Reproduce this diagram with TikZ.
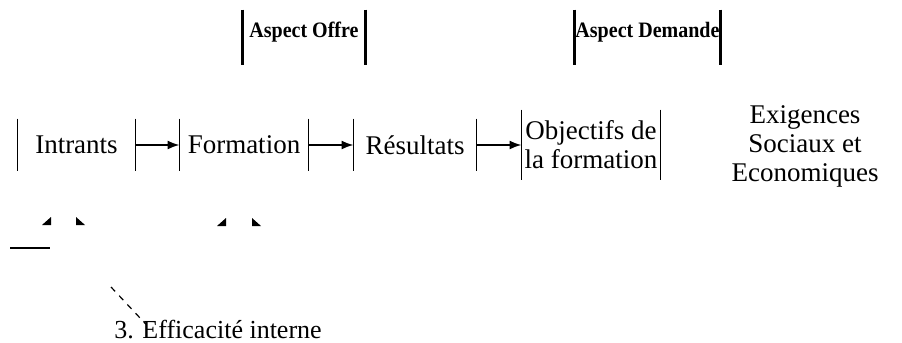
\documentclass[tikz,border=0pt]{standalone}
\usepackage{fontspec}
\setmainfont{Liberation Serif}
\usepackage{tikz}
\usetikzlibrary{arrows.meta}

\tikzset{
  box/.style={inner sep=0pt, minimum height=26pt, font=\fontsize{13.5}{14.5}\selectfont, align=center},
  head/.style={inner sep=0pt, text height=13.5pt, text depth=14pt, font=\fontsize{11}{12}\selectfont\bfseries\addfontfeature{FakeStretch=0.91}},
  bar/.style={line width=0.6pt},
  thickbar/.style={line width=1.4pt},
  tip/.style={fill=black},
  fleche/.style={-{Latex[length=6pt,width=4.5pt]}, line width=1pt},
}

\begin{document}
\begin{tikzpicture}[x=0.5pt, y=-0.5pt]
  \useasboundingbox (0,0) rectangle (902,343);
  % aspects
  \node[head, minimum width=61pt] (offre) at (304,37.5) {Aspect Offre};
  \node[head, minimum width=72.5pt] (demande) at (647.5,37.5) {Aspect Demande};
  \foreach \n in {offre,demande}
    \draw[thickbar] (\n.north west) -- (\n.south west) (\n.north east) -- (\n.south east);
  % chain
  \node[box, minimum width=58.5pt] (intrants) at (76.5,145) {Intrants};
  \node[box, minimum width=64pt] (formation) at (244,145) {Formation};
  \node[box, minimum width=61pt] (resultats) at (415,145) {Résultats};
  \node[box, minimum width=69pt, minimum height=35pt] (objectifs) at (591,145) {Objectifs de\\la formation};
  \node[box] (exigences) at (805,146) {Exigences\\Sociaux et\\Economiques};
  \foreach \n in {intrants,formation,resultats,objectifs}
    \draw[bar] (\n.north west) -- (\n.south west) (\n.north east) -- (\n.south east);
  \draw[fleche] (intrants.east) -- (formation.west);
  \draw[fleche] (formation.east) -- (resultats.west);
  \draw[fleche] (resultats.east) -- (objectifs.west);
  % efficacite
  \fill[tip] (42,225) -- (51,225) -- (51,217) -- cycle;
  \fill[tip] (76,217) -- (76,225) -- (85,225) -- cycle;
  \fill[tip] (217,226) -- (226,226) -- (226,218) -- cycle;
  \fill[tip] (252,218) -- (252,226) -- (261,226) -- cycle;
  \draw[line width=1pt] (10,248) -- (50,248);
  \node[box, minimum height=0pt, font=\fontsize{13}{14}\selectfont] (interne) at (218,330) {3. Efficacité interne};
  \coordinate (pointe) at (111,287);
  \draw[dashed, bar] (pointe) -- ([xshift=16pt,yshift=-2pt]interne.north west);
\end{tikzpicture}
\end{document}
